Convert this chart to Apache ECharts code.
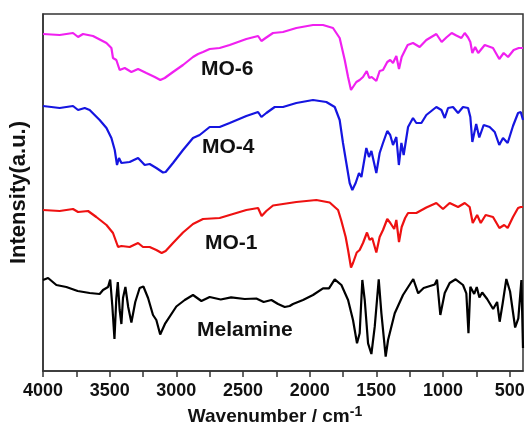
<!DOCTYPE html>
<html>
<head>
<meta charset="utf-8">
<script src="https://cdn.jsdelivr.net/npm/echarts@6/dist/echarts.min.js"></script>
<style>html,body{margin:0;padding:0;background:#fff}#c{width:529px;height:439px}</style>
</head>
<body>
<div id="c"></div>
<script>
// wavenumber (cm-1), intensity (a.u., offset traces)
const mo6 = [[4000,337],[3875,336],[3775,338],[3737,334],[3700,337],[3625,335],[3524,328],[3487,323],[3475,313],[3450,311],[3425,301],[3387,303],[3337,299],[3287,302],[3225,298],[3162,294],[3120,291],[3087,293],[3025,299],[2950,306],[2875,314],[2837,317],[2800,319],[2750,322],[2675,323],[2600,326],[2475,332],[2387,335],[2362,330],[2325,333.5],[2275,338],[2200,339],[2100,343],[1975,346],[1900,346],[1825,343],[1775,333],[1737,311],[1712,294],[1690,281],[1675,283],[1650,289],[1625,291],[1600,294],[1572,300],[1553,293],[1535,294],[1500,290],[1475,300],[1450,301],[1418,309],[1396,311],[1375,308],[1350,315],[1330,302],[1310,314],[1284,321],[1265,326],[1225,328],[1175,324],[1125,331],[1050,337],[1010,329],[975,333.5],[935,338],[900,335.5],[862,333],[837,338],[812,333.5],[795,329],[780,318],[759,324],[736,318],[687,326],[625,323],[578,312],[545,318],[512,314],[470,321],[432,323],[400,323]];
const mo4 = [[4000,265],[3875,263],[3775,265],[3737,261],[3687,263],[3650,261],[3575,251],[3524,243],[3487,233],[3462,221],[3445,206],[3430,213],[3412,208],[3350,209],[3287,213],[3237,206],[3200,207],[3150,203],[3100,198.5],[3080,199],[3025,208],[2950,221],[2875,233],[2825,236],[2750,244],[2675,244],[2600,248],[2475,255],[2387,259],[2362,254],[2325,258],[2262,264],[2200,264],[2100,268],[1975,271],[1875,269],[1812,264],[1775,251],[1750,228],[1725,208],[1700,188],[1680,181],[1655,188],[1630,198],[1612,194],[1575,223],[1555,214],[1537,220],[1500,198],[1475,218],[1450,228],[1418,240],[1396,236],[1375,226],[1350,234],[1331,206],[1312,228],[1295,216],[1262,244],[1225,253],[1200,248],[1162,248],[1125,256],[1050,264],[1012,261],[987,253],[962,263],[925,264],[887,258],[850,264],[812,263],[795,254],[780,229],[751,247],[728,233.5],[695,246],[650,244],[612,239],[578,226],[550,233],[515,228],[475,245],[437,258],[417,259],[400,251]];
const mo1 = [[4000,161],[3875,160],[3775,162],[3737,159],[3662,160],[3600,154],[3524,146],[3475,138],[3437,124],[3412,125],[3350,124],[3287,128],[3250,124],[3200,124],[3150,121],[3110,118],[3080,120],[3025,128],[2950,138.5],[2875,147],[2800,152],[2675,153],[2525,159],[2475,161],[2387,163],[2360,155],[2325,160],[2275,165.5],[2200,167],[2100,169],[1950,171],[1850,168.5],[1787,161],[1764,151],[1730,134],[1712,121],[1690,103.5],[1675,108],[1647,118.5],[1625,121],[1600,128],[1570,138.5],[1550,131],[1531,133],[1500,118.5],[1475,134],[1450,141],[1418,152],[1395,148],[1366,142],[1350,151],[1330,129],[1310,144],[1284,153],[1262,158],[1200,158],[1125,163.5],[1050,168],[1000,162],[950,168],[887,164],[837,168],[800,164],[777,148],[744,156],[717,148],[680,156],[625,154],[577,143],[541,146],[515,143],[475,154],[437,163],[417,164],[400,164]];
const melamine = [[4000,91],[3962,93],[3900,86],[3825,84],[3740,80],[3650,78],[3575,77],[3550,81],[3512,84],[3496,91.5],[3480,65],[3464,32],[3450,73],[3439,89],[3425,61],[3412,47],[3400,73],[3382,84],[3361,64],[3337,48.5],[3308,69],[3275,83],[3247,84.5],[3212,73],[3175,56],[3150,51],[3121,36.5],[3083,47.7],[3000,64.5],[2937,71],[2875,76],[2812,70],[2750,74],[2667,71.5],[2589,73.7],[2487,72],[2400,72.5],[2345,69],[2287,71],[2237,67],[2187,64],[2150,65],[2125,67],[2050,71],[1975,76],[1900,82.7],[1855,82.7],[1812,91.7],[1762,86],[1712,71],[1675,51],[1645,27.7],[1625,37.7],[1605,91],[1587,71],[1562,27.7],[1537,17],[1512,44.3],[1482,91.7],[1462,57.7],[1430,14.3],[1412,31],[1362,57.7],[1300,76],[1223,92],[1186,77.7],[1145,83],[1062,86.5],[1045,91.3],[1020,56],[987,78],[950,88],[905,91.7],[850,86],[825,77.7],[809,37.7],[795,84.3],[766,77],[747,84],[727,73.5],[706,78.5],[669,72],[624,62],[594,69],[575,49.3],[552,68],[525,92],[497,79.5],[459,43.5],[435,52.7],[412,91],[400,23]];
const seriesNames = ['Melamine','MO-1','MO-4','MO-6'];
const xTickLabels = [4000,3500,3000,2500,2000,1500,1000,500];
const xMinorTicks = [4000,3750,3500,3250,3000,2750,2500,2250,2000,1750,1500,1250,1000,750,500];

const FONT = 'Liberation Sans, Arial, Helvetica, sans-serif';
const chart = echarts.init(document.getElementById('c'), null, {renderer:'canvas'});
const colors = ['#000000','#ee1111','#1515e0','#f020f0'];
const datasets = [melamine, mo1, mo4, mo6];
chart.setOption({
  animation:false,
  backgroundColor:'#ffffff',
  grid:{left:43,right:6,top:14,bottom:68,show:true,borderColor:'#333',borderWidth:1.5,backgroundColor:'transparent'},
  xAxis:{
    type:'value', inverse:true, min:400, max:4000,
    splitLine:{show:false},
    axisLine:{show:true,onZero:false,lineStyle:{color:'#333',width:1.5}},
    axisTick:{show:true,inside:false,length:6,customValues:xMinorTicks,lineStyle:{color:'#333',width:1.5}},
    axisLabel:{customValues:xTickLabels,formatter:(v)=>String(v),margin:11,color:'#111',fontFamily:FONT,fontWeight:'bold',fontSize:18},
    name:'{a|Wavenumber / cm}{b|-1}',
    nameLocation:'middle', nameGap:34,
    nameTextStyle:{padding:[0,16,0,0],rich:{
      a:{fontFamily:FONT,fontWeight:'bold',fontSize:19,color:'#111',lineHeight:24},
      b:{fontFamily:FONT,fontWeight:'bold',fontSize:14,color:'#111',lineHeight:24,verticalAlign:'top',padding:[0,0,6,0]}
    }}
  },
  yAxis:{
    type:'value', min:0, max:357,
    splitLine:{show:false},
    axisLine:{show:true,lineStyle:{color:'#333',width:1.5}},
    axisTick:{show:false}, axisLabel:{show:false},
    name:'Intensity(a.u.)', nameLocation:'middle', nameGap:13,
    nameTextStyle:{fontFamily:FONT,fontWeight:'bold',fontSize:22,color:'#111'}
  },
  series: datasets.map((d,i)=>({
    type:'line', name:seriesNames[i], data:d, showSymbol:false, symbol:'none',
    lineStyle:{color:colors[i],width:2.2}, itemStyle:{color:colors[i]}, z:2+i
  })),
  graphic:[
    {type:'text',left:201,top:59,style:{text:'MO-6',font:'bold 21px '+FONT,fill:'#111'}},
    {type:'text',left:202,top:137,style:{text:'MO-4',font:'bold 21px '+FONT,fill:'#111'}},
    {type:'text',left:205,top:233,style:{text:'MO-1',font:'bold 21px '+FONT,fill:'#111'}},
    {type:'text',left:197,top:320,style:{text:'Melamine',font:'bold 21px '+FONT,fill:'#111'}}
  ]
});
</script>
</body>
</html>
